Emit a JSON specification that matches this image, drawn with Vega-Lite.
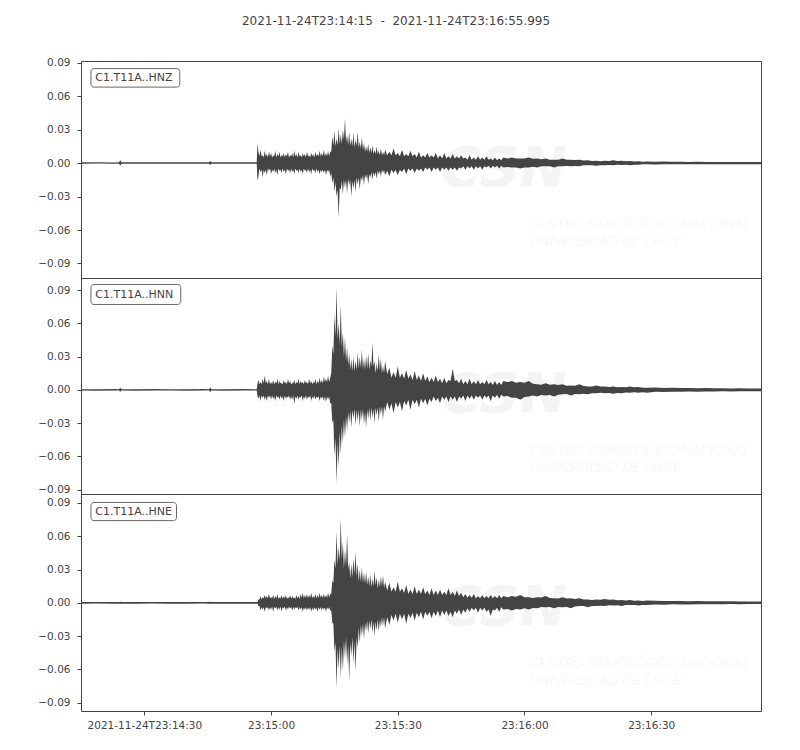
{
  "$schema": "https://vega.github.io/schema/vega-lite/v6.json",
  "padding": {"left": 30, "top": 14, "right": 40, "bottom": 10},
  "background": "white",
  "bounds": "flush",
  "title": {
    "text": "2021-11-24T23:14:15\u00a0 -\u00a0 2021-11-24T23:16:55.995",
    "font": "DejaVu Sans",
    "fontSize": 12,
    "fontWeight": "normal",
    "color": "#444444",
    "anchor": "middle",
    "frame": "bounds",
    "offset": 29.5
  },
  "config": {
    "font": "DejaVu Sans",
    "view": {"stroke": "#444444", "strokeWidth": 1},
    "axis": {
      "labelFont": "DejaVu Sans",
      "labelFontSize": 10.5,
      "labelColor": "#444444",
      "tickColor": "#444444",
      "tickSize": 4,
      "domain": false,
      "grid": false
    }
  },
  "datasets": {
    "trace": [
      {"t": "2021-11-24T23:14:15.000", "zh": 0.0006, "zl": -0.0006, "nh": 0.0006, "nl": -0.0006, "eh": 0.0008, "el": -0.0008},
      {"t": "2021-11-24T23:14:19.000", "zh": 0.0007, "zl": -0.0005, "nh": 0.0005, "nl": -0.0007, "eh": 0.0008, "el": -0.0007},
      {"t": "2021-11-24T23:14:23.000", "zh": 0.0005, "zl": -0.0007, "nh": 0.0007, "nl": -0.0005, "eh": 0.0007, "el": -0.0008},
      {"t": "2021-11-24T23:14:24.000", "zh": 0.0006, "zl": -0.0006, "nh": 0.0006, "nl": -0.0006, "eh": 0.0008, "el": -0.0008},
      {"t": "2021-11-24T23:14:24.300", "zh": 0.0024, "zl": -0.0022, "nh": 0.002, "nl": -0.0018, "eh": 0.0009, "el": -0.0008},
      {"t": "2021-11-24T23:14:24.600", "zh": 0.0006, "zl": -0.0006, "nh": 0.0006, "nl": -0.0006, "eh": 0.0008, "el": -0.0008},
      {"t": "2021-11-24T23:14:28.000", "zh": 0.0007, "zl": -0.0006, "nh": 0.0006, "nl": -0.0007, "eh": 0.0007, "el": -0.0008},
      {"t": "2021-11-24T23:14:32.000", "zh": 0.0006, "zl": -0.0007, "nh": 0.0007, "nl": -0.0006, "eh": 0.0008, "el": -0.0007},
      {"t": "2021-11-24T23:14:36.000", "zh": 0.0007, "zl": -0.0006, "nh": 0.0006, "nl": -0.0006, "eh": 0.0007, "el": -0.0008},
      {"t": "2021-11-24T23:14:40.000", "zh": 0.0006, "zl": -0.0006, "nh": 0.0006, "nl": -0.0007, "eh": 0.0008, "el": -0.0008},
      {"t": "2021-11-24T23:14:44.000", "zh": 0.0006, "zl": -0.0007, "nh": 0.0007, "nl": -0.0006, "eh": 0.0008, "el": -0.0007},
      {"t": "2021-11-24T23:14:45.300", "zh": 0.0006, "zl": -0.0006, "nh": 0.0006, "nl": -0.0006, "eh": 0.0008, "el": -0.0008},
      {"t": "2021-11-24T23:14:45.600", "zh": 0.0018, "zl": -0.0016, "nh": 0.0022, "nl": -0.002, "eh": 0.0009, "el": -0.0009},
      {"t": "2021-11-24T23:14:45.900", "zh": 0.0006, "zl": -0.0006, "nh": 0.0006, "nl": -0.0006, "eh": 0.0008, "el": -0.0008},
      {"t": "2021-11-24T23:14:49.000", "zh": 0.0007, "zl": -0.0006, "nh": 0.0006, "nl": -0.0007, "eh": 0.0008, "el": -0.0008},
      {"t": "2021-11-24T23:14:53.000", "zh": 0.0006, "zl": -0.0007, "nh": 0.0007, "nl": -0.0006, "eh": 0.0007, "el": -0.0008},
      {"t": "2021-11-24T23:14:56.600", "zh": 0.0006, "zl": -0.0006, "nh": 0.0006, "nl": -0.0006, "eh": 0.0008, "el": -0.0008},
      {"t": "2021-11-24T23:14:56.800", "zh": 0.018, "zl": -0.016, "nh": 0.006, "nl": -0.006, "eh": 0.0008, "el": -0.0008},
      {"t": "2021-11-24T23:14:57.000", "zh": 0.010, "zl": -0.012, "nh": 0.009, "nl": -0.008, "eh": 0.003, "el": -0.003},
      {"t": "2021-11-24T23:14:57.250", "zh": 0.006, "zl": -0.005, "nh": 0.005, "nl": -0.005, "eh": 0.003, "el": -0.003},
      {"t": "2021-11-24T23:14:57.500", "zh": 0.012, "zl": -0.008, "nh": 0.007, "nl": -0.010, "eh": 0.006, "el": -0.007},
      {"t": "2021-11-24T23:14:57.750", "zh": 0.006, "zl": -0.006, "nh": 0.005, "nl": -0.005, "eh": 0.003, "el": -0.004},
      {"t": "2021-11-24T23:14:58.000", "zh": 0.007, "zl": -0.013, "nh": 0.010, "nl": -0.007, "eh": 0.005, "el": -0.006},
      {"t": "2021-11-24T23:14:58.250", "zh": 0.005, "zl": -0.006, "nh": 0.006, "nl": -0.005, "eh": 0.004, "el": -0.004},
      {"t": "2021-11-24T23:14:58.500", "zh": 0.011, "zl": -0.009, "nh": 0.013, "nl": -0.009, "eh": 0.007, "el": -0.008},
      {"t": "2021-11-24T23:14:58.750", "zh": 0.006, "zl": -0.006, "nh": 0.006, "nl": -0.006, "eh": 0.004, "el": -0.004},
      {"t": "2021-11-24T23:14:59.000", "zh": 0.008, "zl": -0.011, "nh": 0.008, "nl": -0.010, "eh": 0.006, "el": -0.005},
      {"t": "2021-11-24T23:14:59.250", "zh": 0.005, "zl": -0.005, "nh": 0.005, "nl": -0.005, "eh": 0.004, "el": -0.004},
      {"t": "2021-11-24T23:14:59.500", "zh": 0.010, "zl": -0.007, "nh": 0.010, "nl": -0.007, "eh": 0.008, "el": -0.007},
      {"t": "2021-11-24T23:14:59.750", "zh": 0.006, "zl": -0.005, "nh": 0.005, "nl": -0.005, "eh": 0.004, "el": -0.004},
      {"t": "2021-11-24T23:15:00.000", "zh": 0.009, "zl": -0.010, "nh": 0.007, "nl": -0.009, "eh": 0.005, "el": -0.006},
      {"t": "2021-11-24T23:15:00.250", "zh": 0.005, "zl": -0.006, "nh": 0.005, "nl": -0.005, "eh": 0.004, "el": -0.0035},
      {"t": "2021-11-24T23:15:00.500", "zh": 0.007, "zl": -0.008, "nh": 0.009, "nl": -0.008, "eh": 0.007, "el": -0.008},
      {"t": "2021-11-24T23:15:00.750", "zh": 0.006, "zl": -0.005, "nh": 0.005, "nl": -0.006, "eh": 0.0035, "el": -0.004},
      {"t": "2021-11-24T23:15:01.000", "zh": 0.011, "zl": -0.009, "nh": 0.007, "nl": -0.010, "eh": 0.006, "el": -0.005},
      {"t": "2021-11-24T23:15:01.250", "zh": 0.005, "zl": -0.006, "nh": 0.006, "nl": -0.005, "eh": 0.004, "el": -0.0035},
      {"t": "2021-11-24T23:15:01.500", "zh": 0.008, "zl": -0.011, "nh": 0.010, "nl": -0.007, "eh": 0.008, "el": -0.007},
      {"t": "2021-11-24T23:15:01.750", "zh": 0.006, "zl": -0.005, "nh": 0.005, "nl": -0.006, "eh": 0.0035, "el": -0.004},
      {"t": "2021-11-24T23:15:02.000", "zh": 0.010, "zl": -0.007, "nh": 0.008, "nl": -0.009, "eh": 0.005, "el": -0.006},
      {"t": "2021-11-24T23:15:02.250", "zh": 0.005, "zl": -0.006, "nh": 0.006, "nl": -0.005, "eh": 0.004, "el": -0.0035},
      {"t": "2021-11-24T23:15:02.500", "zh": 0.007, "zl": -0.009, "nh": 0.006, "nl": -0.008, "eh": 0.007, "el": -0.008},
      {"t": "2021-11-24T23:15:02.750", "zh": 0.006, "zl": -0.005, "nh": 0.005, "nl": -0.006, "eh": 0.0035, "el": -0.004},
      {"t": "2021-11-24T23:15:03.000", "zh": 0.009, "zl": -0.008, "nh": 0.009, "nl": -0.010, "eh": 0.006, "el": -0.005},
      {"t": "2021-11-24T23:15:03.250", "zh": 0.005, "zl": -0.006, "nh": 0.006, "nl": -0.005, "eh": 0.004, "el": -0.0035},
      {"t": "2021-11-24T23:15:03.500", "zh": 0.008, "zl": -0.010, "nh": 0.007, "nl": -0.008, "eh": 0.007, "el": -0.007},
      {"t": "2021-11-24T23:15:03.750", "zh": 0.006, "zl": -0.005, "nh": 0.005, "nl": -0.006, "eh": 0.0035, "el": -0.004},
      {"t": "2021-11-24T23:15:04.000", "zh": 0.010, "zl": -0.007, "nh": 0.010, "nl": -0.007, "eh": 0.005, "el": -0.006},
      {"t": "2021-11-24T23:15:04.250", "zh": 0.005, "zl": -0.006, "nh": 0.006, "nl": -0.005, "eh": 0.004, "el": -0.0035},
      {"t": "2021-11-24T23:15:04.500", "zh": 0.007, "zl": -0.009, "nh": 0.008, "nl": -0.009, "eh": 0.007, "el": -0.005},
      {"t": "2021-11-24T23:15:04.750", "zh": 0.006, "zl": -0.005, "nh": 0.005, "nl": -0.006, "eh": 0.0035, "el": -0.004},
      {"t": "2021-11-24T23:15:05.000", "zh": 0.009, "zl": -0.008, "nh": 0.006, "nl": -0.009, "eh": 0.006, "el": -0.007},
      {"t": "2021-11-24T23:15:05.250", "zh": 0.005, "zl": -0.006, "nh": 0.006, "nl": -0.005, "eh": 0.004, "el": -0.0035},
      {"t": "2021-11-24T23:15:05.500", "zh": 0.011, "zl": -0.010, "nh": 0.009, "nl": -0.013, "eh": 0.005, "el": -0.006},
      {"t": "2021-11-24T23:15:05.750", "zh": 0.006, "zl": -0.005, "nh": 0.005, "nl": -0.006, "eh": 0.0035, "el": -0.004},
      {"t": "2021-11-24T23:15:06.000", "zh": 0.008, "zl": -0.007, "nh": 0.007, "nl": -0.008, "eh": 0.007, "el": -0.005},
      {"t": "2021-11-24T23:15:06.250", "zh": 0.005, "zl": -0.006, "nh": 0.006, "nl": -0.005, "eh": 0.004, "el": -0.0035},
      {"t": "2021-11-24T23:15:06.500", "zh": 0.010, "zl": -0.009, "nh": 0.010, "nl": -0.009, "eh": 0.006, "el": -0.007},
      {"t": "2021-11-24T23:15:06.750", "zh": 0.006, "zl": -0.005, "nh": 0.005, "nl": -0.006, "eh": 0.0035, "el": -0.004},
      {"t": "2021-11-24T23:15:07.000", "zh": 0.007, "zl": -0.008, "nh": 0.008, "nl": -0.007, "eh": 0.008, "el": -0.006},
      {"t": "2021-11-24T23:15:07.250", "zh": 0.005, "zl": -0.006, "nh": 0.006, "nl": -0.005, "eh": 0.0045, "el": -0.004},
      {"t": "2021-11-24T23:15:07.500", "zh": 0.009, "zl": -0.010, "nh": 0.007, "nl": -0.010, "eh": 0.009, "el": -0.008},
      {"t": "2021-11-24T23:15:07.750", "zh": 0.006, "zl": -0.005, "nh": 0.005, "nl": -0.006, "eh": 0.004, "el": -0.0045},
      {"t": "2021-11-24T23:15:08.000", "zh": 0.008, "zl": -0.007, "nh": 0.009, "nl": -0.008, "eh": 0.007, "el": -0.006},
      {"t": "2021-11-24T23:15:08.250", "zh": 0.005, "zl": -0.006, "nh": 0.006, "nl": -0.005, "eh": 0.0045, "el": -0.004},
      {"t": "2021-11-24T23:15:08.500", "zh": 0.010, "zl": -0.009, "nh": 0.007, "nl": -0.009, "eh": 0.008, "el": -0.007},
      {"t": "2021-11-24T23:15:08.750", "zh": 0.006, "zl": -0.005, "nh": 0.005, "nl": -0.006, "eh": 0.004, "el": -0.0045},
      {"t": "2021-11-24T23:15:09.000", "zh": 0.007, "zl": -0.008, "nh": 0.010, "nl": -0.007, "eh": 0.007, "el": -0.006},
      {"t": "2021-11-24T23:15:09.250", "zh": 0.005, "zl": -0.006, "nh": 0.006, "nl": -0.005, "eh": 0.0045, "el": -0.004},
      {"t": "2021-11-24T23:15:09.500", "zh": 0.009, "zl": -0.010, "nh": 0.008, "nl": -0.010, "eh": 0.009, "el": -0.008},
      {"t": "2021-11-24T23:15:09.750", "zh": 0.006, "zl": -0.005, "nh": 0.005, "nl": -0.006, "eh": 0.004, "el": -0.0045},
      {"t": "2021-11-24T23:15:10.000", "zh": 0.008, "zl": -0.007, "nh": 0.007, "nl": -0.008, "eh": 0.006, "el": -0.007},
      {"t": "2021-11-24T23:15:10.250", "zh": 0.005, "zl": -0.006, "nh": 0.006, "nl": -0.005, "eh": 0.0045, "el": -0.004},
      {"t": "2021-11-24T23:15:10.500", "zh": 0.010, "zl": -0.009, "nh": 0.010, "nl": -0.009, "eh": 0.008, "el": -0.006},
      {"t": "2021-11-24T23:15:10.750", "zh": 0.006, "zl": -0.005, "nh": 0.005, "nl": -0.006, "eh": 0.004, "el": -0.0045},
      {"t": "2021-11-24T23:15:11.000", "zh": 0.008, "zl": -0.008, "nh": 0.008, "nl": -0.007, "eh": 0.007, "el": -0.008},
      {"t": "2021-11-24T23:15:11.250", "zh": 0.006, "zl": -0.006, "nh": 0.006, "nl": -0.006, "eh": 0.0045, "el": -0.004},
      {"t": "2021-11-24T23:15:11.500", "zh": 0.011, "zl": -0.010, "nh": 0.011, "nl": -0.010, "eh": 0.009, "el": -0.006},
      {"t": "2021-11-24T23:15:11.750", "zh": 0.006, "zl": -0.006, "nh": 0.006, "nl": -0.006, "eh": 0.0045, "el": -0.004},
      {"t": "2021-11-24T23:15:12.000", "zh": 0.009, "zl": -0.008, "nh": 0.009, "nl": -0.008, "eh": 0.007, "el": -0.007},
      {"t": "2021-11-24T23:15:12.250", "zh": 0.006, "zl": -0.006, "nh": 0.006, "nl": -0.006, "eh": 0.0045, "el": -0.004},
      {"t": "2021-11-24T23:15:12.500", "zh": 0.012, "zl": -0.009, "nh": 0.012, "nl": -0.010, "eh": 0.008, "el": -0.006},
      {"t": "2021-11-24T23:15:12.750", "zh": 0.006, "zl": -0.006, "nh": 0.007, "nl": -0.006, "eh": 0.0045, "el": -0.0045},
      {"t": "2021-11-24T23:15:13.000", "zh": 0.009, "zl": -0.011, "nh": 0.010, "nl": -0.011, "eh": 0.007, "el": -0.008},
      {"t": "2021-11-24T23:15:13.250", "zh": 0.006, "zl": -0.006, "nh": 0.007, "nl": -0.006, "eh": 0.0045, "el": -0.004},
      {"t": "2021-11-24T23:15:13.500", "zh": 0.011, "zl": -0.008, "nh": 0.013, "nl": -0.009, "eh": 0.009, "el": -0.006},
      {"t": "2021-11-24T23:15:13.750", "zh": 0.006, "zl": -0.006, "nh": 0.007, "nl": -0.006, "eh": 0.005, "el": -0.004},
      {"t": "2021-11-24T23:15:14.000", "zh": 0.010, "zl": -0.012, "nh": 0.011, "nl": -0.012, "eh": 0.008, "el": -0.007},
      {"t": "2021-11-24T23:15:14.250", "zh": 0.010, "zl": -0.009, "nh": 0.015, "nl": -0.012, "eh": 0.008, "el": -0.007},
      {"t": "2021-11-24T23:15:14.500", "zh": 0.024, "zl": -0.018, "nh": 0.040, "nl": -0.030, "eh": 0.020, "el": -0.018},
      {"t": "2021-11-24T23:15:14.750", "zh": 0.016, "zl": -0.013, "nh": 0.032, "nl": -0.027, "eh": 0.018, "el": -0.019},
      {"t": "2021-11-24T23:15:15.000", "zh": 0.029, "zl": -0.026, "nh": 0.068, "nl": -0.060, "eh": 0.039, "el": -0.044},
      {"t": "2021-11-24T23:15:15.250", "zh": 0.015, "zl": -0.017, "nh": 0.048, "nl": -0.043, "eh": 0.031, "el": -0.036},
      {"t": "2021-11-24T23:15:15.500", "zh": 0.022, "zl": -0.030, "nh": 0.093, "nl": -0.085, "eh": 0.064, "el": -0.077},
      {"t": "2021-11-24T23:15:15.750", "zh": 0.016, "zl": -0.024, "nh": 0.046, "nl": -0.047, "eh": 0.034, "el": -0.041},
      {"t": "2021-11-24T23:15:16.000", "zh": 0.031, "zl": -0.049, "nh": 0.060, "nl": -0.070, "eh": 0.050, "el": -0.060},
      {"t": "2021-11-24T23:15:16.250", "zh": 0.017, "zl": -0.022, "nh": 0.041, "nl": -0.038, "eh": 0.038, "el": -0.038},
      {"t": "2021-11-24T23:15:16.500", "zh": 0.026, "zl": -0.024, "nh": 0.077, "nl": -0.058, "eh": 0.076, "el": -0.068},
      {"t": "2021-11-24T23:15:16.750", "zh": 0.017, "zl": -0.016, "nh": 0.039, "nl": -0.032, "eh": 0.039, "el": -0.039},
      {"t": "2021-11-24T23:15:17.000", "zh": 0.030, "zl": -0.028, "nh": 0.052, "nl": -0.048, "eh": 0.055, "el": -0.062},
      {"t": "2021-11-24T23:15:17.250", "zh": 0.021, "zl": -0.015, "nh": 0.030, "nl": -0.027, "eh": 0.031, "el": -0.034},
      {"t": "2021-11-24T23:15:17.500", "zh": 0.040, "zl": -0.022, "nh": 0.047, "nl": -0.043, "eh": 0.048, "el": -0.050},
      {"t": "2021-11-24T23:15:17.750", "zh": 0.019, "zl": -0.015, "nh": 0.026, "nl": -0.024, "eh": 0.033, "el": -0.031},
      {"t": "2021-11-24T23:15:18.000", "zh": 0.025, "zl": -0.027, "nh": 0.039, "nl": -0.037, "eh": 0.062, "el": -0.055},
      {"t": "2021-11-24T23:15:18.250", "zh": 0.016, "zl": -0.014, "nh": 0.022, "nl": -0.020, "eh": 0.030, "el": -0.038},
      {"t": "2021-11-24T23:15:18.500", "zh": 0.028, "zl": -0.020, "nh": 0.033, "nl": -0.030, "eh": 0.037, "el": -0.071},
      {"t": "2021-11-24T23:15:18.750", "zh": 0.015, "zl": -0.015, "nh": 0.018, "nl": -0.019, "eh": 0.022, "el": -0.036},
      {"t": "2021-11-24T23:15:19.000", "zh": 0.022, "zl": -0.030, "nh": 0.028, "nl": -0.034, "eh": 0.035, "el": -0.048},
      {"t": "2021-11-24T23:15:19.250", "zh": 0.015, "zl": -0.016, "nh": 0.017, "nl": -0.018, "eh": 0.023, "el": -0.031},
      {"t": "2021-11-24T23:15:19.500", "zh": 0.027, "zl": -0.023, "nh": 0.030, "nl": -0.026, "eh": 0.040, "el": -0.055},
      {"t": "2021-11-24T23:15:19.750", "zh": 0.014, "zl": -0.015, "nh": 0.017, "nl": -0.017, "eh": 0.026, "el": -0.035},
      {"t": "2021-11-24T23:15:20.000", "zh": 0.021, "zl": -0.026, "nh": 0.026, "nl": -0.032, "eh": 0.046, "el": -0.062},
      {"t": "2021-11-24T23:15:20.250", "zh": 0.015, "zl": -0.013, "nh": 0.018, "nl": -0.018, "eh": 0.024, "el": -0.031},
      {"t": "2021-11-24T23:15:20.500", "zh": 0.028, "zl": -0.019, "nh": 0.034, "nl": -0.028, "eh": 0.035, "el": -0.041},
      {"t": "2021-11-24T23:15:20.750", "zh": 0.014, "zl": -0.013, "nh": 0.019, "nl": -0.018, "eh": 0.019, "el": -0.023},
      {"t": "2021-11-24T23:15:21.000", "zh": 0.019, "zl": -0.024, "nh": 0.030, "nl": -0.033, "eh": 0.030, "el": -0.036},
      {"t": "2021-11-24T23:15:21.250", "zh": 0.013, "zl": -0.012, "nh": 0.020, "nl": -0.018, "eh": 0.019, "el": -0.020},
      {"t": "2021-11-24T23:15:21.500", "zh": 0.023, "zl": -0.016, "nh": 0.036, "nl": -0.027, "eh": 0.032, "el": -0.030},
      {"t": "2021-11-24T23:15:21.750", "zh": 0.012, "zl": -0.011, "nh": 0.019, "nl": -0.017, "eh": 0.018, "el": -0.019},
      {"t": "2021-11-24T23:15:22.000", "zh": 0.018, "zl": -0.020, "nh": 0.028, "nl": -0.031, "eh": 0.027, "el": -0.033},
      {"t": "2021-11-24T23:15:22.250", "zh": 0.010, "zl": -0.010, "nh": 0.018, "nl": -0.020, "eh": 0.017, "el": -0.018},
      {"t": "2021-11-24T23:15:22.500", "zh": 0.015, "zl": -0.014, "nh": 0.031, "nl": -0.034, "eh": 0.028, "el": -0.026},
      {"t": "2021-11-24T23:15:22.750", "zh": 0.010, "zl": -0.010, "nh": 0.019, "nl": -0.018, "eh": 0.016, "el": -0.016},
      {"t": "2021-11-24T23:15:23.000", "zh": 0.017, "zl": -0.019, "nh": 0.033, "nl": -0.026, "eh": 0.024, "el": -0.028},
      {"t": "2021-11-24T23:15:23.250", "zh": 0.009, "zl": -0.010, "nh": 0.018, "nl": -0.016, "eh": 0.015, "el": -0.016},
      {"t": "2021-11-24T23:15:23.500", "zh": 0.014, "zl": -0.013, "nh": 0.027, "nl": -0.028, "eh": 0.026, "el": -0.024},
      {"t": "2021-11-24T23:15:23.750", "zh": 0.009, "zl": -0.008, "nh": 0.021, "nl": -0.016, "eh": 0.014, "el": -0.015},
      {"t": "2021-11-24T23:15:24.000", "zh": 0.016, "zl": -0.015, "nh": 0.043, "nl": -0.025, "eh": 0.022, "el": -0.027},
      {"t": "2021-11-24T23:15:24.250", "zh": 0.008, "zl": -0.008, "nh": 0.021, "nl": -0.017, "eh": 0.015, "el": -0.017},
      {"t": "2021-11-24T23:15:24.500", "zh": 0.012, "zl": -0.012, "nh": 0.026, "nl": -0.030, "eh": 0.029, "el": -0.030},
      {"t": "2021-11-24T23:15:24.750", "zh": 0.008, "zl": -0.008, "nh": 0.015, "nl": -0.016, "eh": 0.016, "el": -0.017},
      {"t": "2021-11-24T23:15:25.000", "zh": 0.015, "zl": -0.014, "nh": 0.024, "nl": -0.023, "eh": 0.023, "el": -0.025},
      {"t": "2021-11-24T23:15:25.250", "zh": 0.008, "zl": -0.007, "nh": 0.017, "nl": -0.016, "eh": 0.013, "el": -0.015},
      {"t": "2021-11-24T23:15:25.500", "zh": 0.011, "zl": -0.010, "nh": 0.032, "nl": -0.029, "eh": 0.021, "el": -0.026},
      {"t": "2021-11-24T23:15:25.750", "zh": 0.007, "zl": -0.007, "nh": 0.018, "nl": -0.015, "eh": 0.014, "el": -0.015},
      {"t": "2021-11-24T23:15:26.000", "zh": 0.013, "zl": -0.012, "nh": 0.028, "nl": -0.022, "eh": 0.024, "el": -0.022},
      {"t": "2021-11-24T23:15:26.250", "zh": 0.007, "zl": -0.006, "nh": 0.015, "nl": -0.015, "eh": 0.015, "el": -0.013},
      {"t": "2021-11-24T23:15:26.500", "zh": 0.010, "zl": -0.009, "nh": 0.022, "nl": -0.027, "eh": 0.025, "el": -0.021},
      {"t": "2021-11-24T23:15:26.750", "zh": 0.007, "zl": -0.006, "nh": 0.015, "nl": -0.014, "eh": 0.013, "el": -0.013},
      {"t": "2021-11-24T23:15:27.000", "zh": 0.012, "zl": -0.011, "nh": 0.026, "nl": -0.020, "eh": 0.019, "el": -0.023},
      {"t": "2021-11-24T23:15:27.500", "zh": 0.007, "zl": -0.007, "nh": 0.014, "nl": -0.011, "eh": 0.011, "el": -0.013},
      {"t": "2021-11-24T23:15:28.000", "zh": 0.010, "zl": -0.012, "nh": 0.020, "nl": -0.018, "eh": 0.018, "el": -0.020},
      {"t": "2021-11-24T23:15:28.500", "zh": 0.007, "zl": -0.006, "nh": 0.011, "nl": -0.012, "eh": 0.010, "el": -0.011},
      {"t": "2021-11-24T23:15:29.000", "zh": 0.013, "zl": -0.009, "nh": 0.016, "nl": -0.021, "eh": 0.014, "el": -0.016},
      {"t": "2021-11-24T23:15:29.500", "zh": 0.007, "zl": -0.006, "nh": 0.011, "nl": -0.011, "eh": 0.010, "el": -0.010},
      {"t": "2021-11-24T23:15:30.000", "zh": 0.009, "zl": -0.011, "nh": 0.021, "nl": -0.016, "eh": 0.019, "el": -0.018},
      {"t": "2021-11-24T23:15:30.500", "zh": 0.006, "zl": -0.006, "nh": 0.011, "nl": -0.011, "eh": 0.010, "el": -0.010},
      {"t": "2021-11-24T23:15:31.000", "zh": 0.012, "zl": -0.008, "nh": 0.015, "nl": -0.019, "eh": 0.013, "el": -0.015},
      {"t": "2021-11-24T23:15:31.500", "zh": 0.006, "zl": -0.005, "nh": 0.010, "nl": -0.010, "eh": 0.009, "el": -0.010},
      {"t": "2021-11-24T23:15:32.000", "zh": 0.008, "zl": -0.010, "nh": 0.018, "nl": -0.014, "eh": 0.016, "el": -0.019},
      {"t": "2021-11-24T23:15:32.500", "zh": 0.006, "zl": -0.005, "nh": 0.010, "nl": -0.009, "eh": 0.008, "el": -0.010},
      {"t": "2021-11-24T23:15:33.000", "zh": 0.011, "zl": -0.007, "nh": 0.014, "nl": -0.018, "eh": 0.012, "el": -0.014},
      {"t": "2021-11-24T23:15:33.500", "zh": 0.006, "zl": -0.005, "nh": 0.009, "nl": -0.009, "eh": 0.008, "el": -0.009},
      {"t": "2021-11-24T23:15:34.000", "zh": 0.008, "zl": -0.009, "nh": 0.017, "nl": -0.013, "eh": 0.015, "el": -0.016},
      {"t": "2021-11-24T23:15:34.500", "zh": 0.005, "zl": -0.005, "nh": 0.009, "nl": -0.009, "eh": 0.008, "el": -0.009},
      {"t": "2021-11-24T23:15:35.000", "zh": 0.010, "zl": -0.007, "nh": 0.013, "nl": -0.016, "eh": 0.012, "el": -0.013},
      {"t": "2021-11-24T23:15:35.500", "zh": 0.005, "zl": -0.005, "nh": 0.008, "nl": -0.008, "eh": 0.008, "el": -0.008},
      {"t": "2021-11-24T23:15:36.000", "zh": 0.007, "zl": -0.008, "nh": 0.015, "nl": -0.012, "eh": 0.014, "el": -0.015},
      {"t": "2021-11-24T23:15:36.500", "zh": 0.005, "zl": -0.004, "nh": 0.008, "nl": -0.008, "eh": 0.008, "el": -0.008},
      {"t": "2021-11-24T23:15:37.000", "zh": 0.009, "zl": -0.006, "nh": 0.012, "nl": -0.014, "eh": 0.011, "el": -0.012},
      {"t": "2021-11-24T23:15:37.500", "zh": 0.005, "zl": -0.004, "nh": 0.007, "nl": -0.008, "eh": 0.007, "el": -0.008},
      {"t": "2021-11-24T23:15:38.000", "zh": 0.007, "zl": -0.008, "nh": 0.011, "nl": -0.011, "eh": 0.013, "el": -0.014},
      {"t": "2021-11-24T23:15:38.500", "zh": 0.005, "zl": -0.004, "nh": 0.007, "nl": -0.006, "eh": 0.007, "el": -0.008},
      {"t": "2021-11-24T23:15:39.000", "zh": 0.009, "zl": -0.006, "nh": 0.013, "nl": -0.010, "eh": 0.011, "el": -0.012},
      {"t": "2021-11-24T23:15:39.500", "zh": 0.004, "zl": -0.004, "nh": 0.007, "nl": -0.007, "eh": 0.007, "el": -0.007},
      {"t": "2021-11-24T23:15:40.000", "zh": 0.007, "zl": -0.008, "nh": 0.010, "nl": -0.012, "eh": 0.012, "el": -0.013},
      {"t": "2021-11-24T23:15:40.500", "zh": 0.004, "zl": -0.004, "nh": 0.006, "nl": -0.006, "eh": 0.007, "el": -0.007},
      {"t": "2021-11-24T23:15:41.000", "zh": 0.009, "zl": -0.006, "nh": 0.011, "nl": -0.009, "eh": 0.010, "el": -0.011},
      {"t": "2021-11-24T23:15:41.500", "zh": 0.004, "zl": -0.004, "nh": 0.006, "nl": -0.006, "eh": 0.007, "el": -0.007},
      {"t": "2021-11-24T23:15:42.000", "zh": 0.006, "zl": -0.007, "nh": 0.009, "nl": -0.011, "eh": 0.013, "el": -0.012},
      {"t": "2021-11-24T23:15:42.500", "zh": 0.004, "zl": -0.004, "nh": 0.008, "nl": -0.006, "eh": 0.007, "el": -0.008},
      {"t": "2021-11-24T23:15:43.000", "zh": 0.008, "zl": -0.006, "nh": 0.019, "nl": -0.009, "eh": 0.010, "el": -0.013},
      {"t": "2021-11-24T23:15:43.500", "zh": 0.004, "zl": -0.004, "nh": 0.008, "nl": -0.006, "eh": 0.006, "el": -0.007},
      {"t": "2021-11-24T23:15:44.000", "zh": 0.006, "zl": -0.007, "nh": 0.009, "nl": -0.011, "eh": 0.011, "el": -0.010},
      {"t": "2021-11-24T23:15:44.500", "zh": 0.004, "zl": -0.004, "nh": 0.006, "nl": -0.006, "eh": 0.006, "el": -0.006},
      {"t": "2021-11-24T23:15:45.000", "zh": 0.007, "zl": -0.005, "nh": 0.010, "nl": -0.008, "eh": 0.009, "el": -0.011},
      {"t": "2021-11-24T23:15:45.500", "zh": 0.004, "zl": -0.003, "nh": 0.005, "nl": -0.005, "eh": 0.005, "el": -0.006},
      {"t": "2021-11-24T23:15:46.000", "zh": 0.005, "zl": -0.006, "nh": 0.008, "nl": -0.010, "eh": 0.008, "el": -0.009},
      {"t": "2021-11-24T23:15:46.500", "zh": 0.003, "zl": -0.003, "nh": 0.005, "nl": -0.005, "eh": 0.0045, "el": -0.005},
      {"t": "2021-11-24T23:15:47.000", "zh": 0.007, "zl": -0.005, "nh": 0.010, "nl": -0.008, "eh": 0.007, "el": -0.008},
      {"t": "2021-11-24T23:15:47.500", "zh": 0.003, "zl": -0.003, "nh": 0.005, "nl": -0.005, "eh": 0.0045, "el": -0.0045},
      {"t": "2021-11-24T23:15:48.000", "zh": 0.005, "zl": -0.006, "nh": 0.008, "nl": -0.009, "eh": 0.008, "el": -0.007},
      {"t": "2021-11-24T23:15:48.500", "zh": 0.003, "zl": -0.003, "nh": 0.005, "nl": -0.005, "eh": 0.004, "el": -0.0045},
      {"t": "2021-11-24T23:15:49.000", "zh": 0.006, "zl": -0.005, "nh": 0.009, "nl": -0.007, "eh": 0.006, "el": -0.009},
      {"t": "2021-11-24T23:15:49.500", "zh": 0.003, "zl": -0.003, "nh": 0.005, "nl": -0.005, "eh": 0.004, "el": -0.0045},
      {"t": "2021-11-24T23:15:50.000", "zh": 0.005, "zl": -0.006, "nh": 0.007, "nl": -0.009, "eh": 0.007, "el": -0.007},
      {"t": "2021-11-24T23:15:50.500", "zh": 0.003, "zl": -0.003, "nh": 0.005, "nl": -0.005, "eh": 0.004, "el": -0.0045},
      {"t": "2021-11-24T23:15:51.000", "zh": 0.006, "zl": -0.004, "nh": 0.009, "nl": -0.007, "eh": 0.006, "el": -0.008},
      {"t": "2021-11-24T23:15:51.500", "zh": 0.003, "zl": -0.0025, "nh": 0.005, "nl": -0.005, "eh": 0.004, "el": -0.006},
      {"t": "2021-11-24T23:15:52.000", "zh": 0.004, "zl": -0.005, "nh": 0.007, "nl": -0.010, "eh": 0.007, "el": -0.012},
      {"t": "2021-11-24T23:15:52.500", "zh": 0.0025, "zl": -0.0025, "nh": 0.0045, "nl": -0.005, "eh": 0.004, "el": -0.006},
      {"t": "2021-11-24T23:15:53.000", "zh": 0.005, "zl": -0.004, "nh": 0.008, "nl": -0.007, "eh": 0.006, "el": -0.007},
      {"t": "2021-11-24T23:15:53.500", "zh": 0.0025, "zl": -0.0025, "nh": 0.0045, "nl": -0.0045, "eh": 0.004, "el": -0.0045},
      {"t": "2021-11-24T23:15:54.000", "zh": 0.004, "zl": -0.005, "nh": 0.007, "nl": -0.008, "eh": 0.007, "el": -0.008},
      {"t": "2021-11-24T23:15:54.500", "zh": 0.0025, "zl": -0.0025, "nh": 0.0045, "nl": -0.0045, "eh": 0.004, "el": -0.004},
      {"t": "2021-11-24T23:15:55.000", "zh": 0.005, "zl": -0.004, "nh": 0.008, "nl": -0.006, "eh": 0.006, "el": -0.006},
      {"t": "2021-11-24T23:15:56.000", "zh": 0.004, "zl": -0.0035, "nh": 0.007, "nl": -0.0055, "eh": 0.005, "el": -0.0055},
      {"t": "2021-11-24T23:15:57.000", "zh": 0.005, "zl": -0.004, "nh": 0.008, "nl": -0.007, "eh": 0.006, "el": -0.007},
      {"t": "2021-11-24T23:15:58.000", "zh": 0.004, "zl": -0.004, "nh": 0.0065, "nl": -0.007, "eh": 0.0055, "el": -0.0055},
      {"t": "2021-11-24T23:15:59.000", "zh": 0.004, "zl": -0.005, "nh": 0.007, "nl": -0.009, "eh": 0.007, "el": -0.006},
      {"t": "2021-11-24T23:16:00.000", "zh": 0.004, "zl": -0.004, "nh": 0.0065, "nl": -0.0065, "eh": 0.005, "el": -0.005},
      {"t": "2021-11-24T23:16:01.000", "zh": 0.005, "zl": -0.004, "nh": 0.008, "nl": -0.006, "eh": 0.005, "el": -0.006},
      {"t": "2021-11-24T23:16:02.000", "zh": 0.0038, "zl": -0.0034, "nh": 0.0055, "nl": -0.005, "eh": 0.0043, "el": -0.0047},
      {"t": "2021-11-24T23:16:03.000", "zh": 0.004, "zl": -0.004, "nh": 0.005, "nl": -0.006, "eh": 0.005, "el": -0.005},
      {"t": "2021-11-24T23:16:04.000", "zh": 0.0034, "zl": -0.003, "nh": 0.0047, "nl": -0.0047, "eh": 0.0047, "el": -0.0038},
      {"t": "2021-11-24T23:16:05.000", "zh": 0.004, "zl": -0.003, "nh": 0.006, "nl": -0.005, "eh": 0.006, "el": -0.004},
      {"t": "2021-11-24T23:16:06.000", "zh": 0.003, "zl": -0.003, "nh": 0.0047, "nl": -0.0047, "eh": 0.0043, "el": -0.0038},
      {"t": "2021-11-24T23:16:07.000", "zh": 0.003, "zl": -0.004, "nh": 0.005, "nl": -0.006, "eh": 0.004, "el": -0.005},
      {"t": "2021-11-24T23:16:08.000", "zh": 0.003, "zl": -0.003, "nh": 0.0043, "nl": -0.0043, "eh": 0.0038, "el": -0.0038},
      {"t": "2021-11-24T23:16:09.000", "zh": 0.004, "zl": -0.003, "nh": 0.005, "nl": -0.004, "eh": 0.005, "el": -0.004},
      {"t": "2021-11-24T23:16:10.000", "zh": 0.003, "zl": -0.0026, "nh": 0.0038, "nl": -0.0038, "eh": 0.0038, "el": -0.0038},
      {"t": "2021-11-24T23:16:11.000", "zh": 0.003, "zl": -0.003, "nh": 0.004, "nl": -0.005, "eh": 0.004, "el": -0.005},
      {"t": "2021-11-24T23:16:12.000", "zh": 0.0026, "zl": -0.0026, "nh": 0.0038, "nl": -0.0038, "eh": 0.0034, "el": -0.0034},
      {"t": "2021-11-24T23:16:13.000", "zh": 0.003, "zl": -0.003, "nh": 0.005, "nl": -0.004, "eh": 0.004, "el": -0.003},
      {"t": "2021-11-24T23:16:14.000", "zh": 0.0023, "zl": -0.0021, "nh": 0.0034, "nl": -0.0034, "eh": 0.003, "el": -0.003},
      {"t": "2021-11-24T23:16:15.000", "zh": 0.0025, "zl": -0.002, "nh": 0.003, "nl": -0.004, "eh": 0.003, "el": -0.004},
      {"t": "2021-11-24T23:16:16.000", "zh": 0.0019, "zl": -0.0019, "nh": 0.003, "nl": -0.003, "eh": 0.0026, "el": -0.003},
      {"t": "2021-11-24T23:16:17.000", "zh": 0.002, "zl": -0.0025, "nh": 0.004, "nl": -0.003, "eh": 0.003, "el": -0.003},
      {"t": "2021-11-24T23:16:18.000", "zh": 0.0017, "zl": -0.0019, "nh": 0.003, "nl": -0.0026, "eh": 0.0028, "el": -0.0026},
      {"t": "2021-11-24T23:16:19.000", "zh": 0.002, "zl": -0.002, "nh": 0.003, "nl": -0.003, "eh": 0.0035, "el": -0.003},
      {"t": "2021-11-24T23:16:20.000", "zh": 0.0019, "zl": -0.0017, "nh": 0.0026, "nl": -0.0028, "eh": 0.0028, "el": -0.0023},
      {"t": "2021-11-24T23:16:21.000", "zh": 0.0025, "zl": -0.002, "nh": 0.003, "nl": -0.0035, "eh": 0.003, "el": -0.0025},
      {"t": "2021-11-24T23:16:22.000", "zh": 0.0019, "zl": -0.0016, "nh": 0.0023, "nl": -0.0028, "eh": 0.0023, "el": -0.0023},
      {"t": "2021-11-24T23:16:23.000", "zh": 0.002, "zl": -0.0018, "nh": 0.0025, "nl": -0.003, "eh": 0.0025, "el": -0.003},
      {"t": "2021-11-24T23:16:24.000", "zh": 0.0016, "zl": -0.0016, "nh": 0.0023, "nl": -0.0023, "eh": 0.0021, "el": -0.0021},
      {"t": "2021-11-24T23:16:25.000", "zh": 0.0018, "zl": -0.002, "nh": 0.003, "nl": -0.0025, "eh": 0.0025, "el": -0.002},
      {"t": "2021-11-24T23:16:26.000", "zh": 0.0014, "zl": -0.0015, "nh": 0.0023, "nl": -0.0021, "eh": 0.0019, "el": -0.0019},
      {"t": "2021-11-24T23:16:27.000", "zh": 0.0015, "zl": -0.0015, "nh": 0.0025, "nl": -0.0025, "eh": 0.002, "el": -0.0025},
      {"t": "2021-11-24T23:16:28.000", "zh": 0.0012, "zl": -0.0012, "nh": 0.0019, "nl": -0.0021, "eh": 0.0017, "el": -0.0019},
      {"t": "2021-11-24T23:16:29.000", "zh": 0.0014, "zl": -0.0012, "nh": 0.002, "nl": -0.0025, "eh": 0.002, "el": -0.002},
      {"t": "2021-11-24T23:16:31.000", "zh": 0.0012, "zl": -0.0013, "nh": 0.0022, "nl": -0.0018, "eh": 0.0018, "el": -0.0016},
      {"t": "2021-11-24T23:16:33.000", "zh": 0.0013, "zl": -0.0011, "nh": 0.0018, "nl": -0.002, "eh": 0.0016, "el": -0.0018},
      {"t": "2021-11-24T23:16:35.000", "zh": 0.0011, "zl": -0.0012, "nh": 0.0019, "nl": -0.0016, "eh": 0.0015, "el": -0.0014},
      {"t": "2021-11-24T23:16:37.000", "zh": 0.0012, "zl": -0.0011, "nh": 0.0016, "nl": -0.0018, "eh": 0.0016, "el": -0.0015},
      {"t": "2021-11-24T23:16:39.000", "zh": 0.001, "zl": -0.0011, "nh": 0.0017, "nl": -0.0015, "eh": 0.0014, "el": -0.0015},
      {"t": "2021-11-24T23:16:41.000", "zh": 0.0011, "zl": -0.001, "nh": 0.0015, "nl": -0.0016, "eh": 0.0015, "el": -0.0013},
      {"t": "2021-11-24T23:16:43.000", "zh": 0.001, "zl": -0.001, "nh": 0.0016, "nl": -0.0014, "eh": 0.0013, "el": -0.0014},
      {"t": "2021-11-24T23:16:45.000", "zh": 0.001, "zl": -0.001, "nh": 0.0014, "nl": -0.0015, "eh": 0.0014, "el": -0.0013},
      {"t": "2021-11-24T23:16:47.000", "zh": 0.001, "zl": -0.001, "nh": 0.0015, "nl": -0.0013, "eh": 0.0013, "el": -0.0013},
      {"t": "2021-11-24T23:16:49.000", "zh": 0.001, "zl": -0.001, "nh": 0.0013, "nl": -0.0014, "eh": 0.0013, "el": -0.0012},
      {"t": "2021-11-24T23:16:51.000", "zh": 0.001, "zl": -0.001, "nh": 0.0014, "nl": -0.0013, "eh": 0.0012, "el": -0.0013},
      {"t": "2021-11-24T23:16:53.000", "zh": 0.001, "zl": -0.001, "nh": 0.0013, "nl": -0.0013, "eh": 0.0012, "el": -0.0012},
      {"t": "2021-11-24T23:16:55.995", "zh": 0.001, "zl": -0.001, "nh": 0.0013, "nl": -0.0013, "eh": 0.0012, "el": -0.0012}
    ]
  },
  "spacing": 0,
  "vconcat": [
    {
      "width": 680,
      "height": 217,
      "layer": [
        {
          "data": {"values": [{"logo": "CSN"}]},
          "mark": {"type": "text", "font": "DejaVu Sans", "fontSize": 56, "fontStyle": "italic", "fontWeight": "bold", "color": "#f4f4f4", "align": "center", "baseline": "middle"},
          "encoding": {
            "x": {"datum": {"year": 2021, "month": 11, "date": 24, "hours": 23, "minutes": 15, "seconds": 55}, "type": "temporal", "title": null, "axis": null},
            "y": {"datum": -0.005, "type": "quantitative", "title": null, "axis": {"values": [-0.09, -0.06, -0.03, 0, 0.03, 0.06, 0.09], "format": ".2f", "labelPadding": 7, "minExtent": 50, "maxExtent": 50}},
            "text": {"field": "logo"}
          }
        },
        {
          "data": {"values": [{"org": "CENTRO SISMOLÓGICO NACIONAL\nUNIVERSIDAD DE CHILE"}]},
          "mark": {"type": "text", "font": "Lato", "fontSize": 14.5, "fontStyle": "italic", "fontWeight": 300, "color": "#f4f4f4", "align": "left", "baseline": "top", "lineBreak": "\n", "lineHeight": 17},
          "encoding": {
            "x": {"datum": {"year": 2021, "month": 11, "date": 24, "hours": 23, "minutes": 16, "seconds": 1, "milliseconds": 300}, "type": "temporal", "title": null, "axis": null},
            "y": {"datum": -0.049, "type": "quantitative", "title": null, "axis": {"values": [-0.09, -0.06, -0.03, 0, 0.03, 0.06, 0.09], "format": ".2f", "labelPadding": 7, "minExtent": 50, "maxExtent": 50}},
            "text": {"field": "org"}
          }
        },
        {
          "data": {"name": "trace"},
          "mark": {"type": "area", "color": "#444444", "interpolate": "linear"},
          "encoding": {
            "x": {
              "field": "t",
              "type": "temporal",
              "title": null,
              "scale": {"domain": [{"year": 2021, "month": 11, "date": 24, "hours": 23, "minutes": 14, "seconds": 15}, {"year": 2021, "month": 11, "date": 24, "hours": 23, "minutes": 16, "seconds": 55, "milliseconds": 995}]},
              "axis": null
            },
            "y": {
              "field": "zh",
              "type": "quantitative",
              "title": null,
              "scale": {"domain": [-0.103, 0.0914], "nice": false, "zero": false},
              "axis": {"values": [-0.09, -0.06, -0.03, 0, 0.03, 0.06, 0.09], "format": ".2f", "labelPadding": 7, "minExtent": 50, "maxExtent": 50}
            },
            "y2": {"field": "zl"}
          }
        },
        {
          "data": {"values": [{"station": "C1.T11A..HNZ"}]},
          "mark": {"type": "rect", "fill": "white", "stroke": "#666666", "strokeWidth": 1, "cornerRadius": 3},
          "encoding": {
            "x": {"datum": {"year": 2021, "month": 11, "date": 24, "hours": 23, "minutes": 14, "seconds": 17, "milliseconds": 360}, "type": "temporal", "title": null, "axis": null},
            "x2": {"datum": {"year": 2021, "month": 11, "date": 24, "hours": 23, "minutes": 14, "seconds": 38, "milliseconds": 390}},
            "y": {"datum": 0.0846, "type": "quantitative", "title": null, "axis": {"values": [-0.09, -0.06, -0.03, 0, 0.03, 0.06, 0.09], "format": ".2f", "labelPadding": 7, "minExtent": 50, "maxExtent": 50}},
            "y2": {"datum": 0.068}
          }
        },
        {
          "data": {"values": [{"station": "C1.T11A..HNZ"}]},
          "mark": {"type": "text", "fontSize": 11, "color": "#444444", "align": "left", "baseline": "middle"},
          "encoding": {
            "x": {"datum": {"year": 2021, "month": 11, "date": 24, "hours": 23, "minutes": 14, "seconds": 18, "milliseconds": 400}, "type": "temporal", "title": null, "axis": null},
            "y": {"datum": 0.0763, "type": "quantitative", "title": null, "axis": {"values": [-0.09, -0.06, -0.03, 0, 0.03, 0.06, 0.09], "format": ".2f", "labelPadding": 7, "minExtent": 50, "maxExtent": 50}},
            "text": {"field": "station"}
          }
        }
      ]
    },
    {
      "width": 680,
      "height": 216,
      "layer": [
        {
          "data": {"values": [{"logo": "CSN"}]},
          "mark": {"type": "text", "font": "DejaVu Sans", "fontSize": 56, "fontStyle": "italic", "fontWeight": "bold", "color": "#f4f4f4", "align": "center", "baseline": "middle"},
          "encoding": {
            "x": {"datum": {"year": 2021, "month": 11, "date": 24, "hours": 23, "minutes": 15, "seconds": 55}, "type": "temporal", "title": null, "axis": null},
            "y": {"datum": -0.005, "type": "quantitative", "title": null, "axis": {"values": [-0.09, -0.06, -0.03, 0, 0.03, 0.06, 0.09], "format": ".2f", "labelPadding": 7, "minExtent": 50, "maxExtent": 50}},
            "text": {"field": "logo"}
          }
        },
        {
          "data": {"values": [{"org": "CENTRO SISMOLÓGICO NACIONAL\nUNIVERSIDAD DE CHILE"}]},
          "mark": {"type": "text", "font": "Lato", "fontSize": 14.5, "fontStyle": "italic", "fontWeight": 300, "color": "#f4f4f4", "align": "left", "baseline": "top", "lineBreak": "\n", "lineHeight": 17},
          "encoding": {
            "x": {"datum": {"year": 2021, "month": 11, "date": 24, "hours": 23, "minutes": 16, "seconds": 1, "milliseconds": 300}, "type": "temporal", "title": null, "axis": null},
            "y": {"datum": -0.049, "type": "quantitative", "title": null, "axis": {"values": [-0.09, -0.06, -0.03, 0, 0.03, 0.06, 0.09], "format": ".2f", "labelPadding": 7, "minExtent": 50, "maxExtent": 50}},
            "text": {"field": "org"}
          }
        },
        {
          "data": {"name": "trace"},
          "mark": {"type": "area", "color": "#444444", "interpolate": "linear"},
          "encoding": {
            "x": {
              "field": "t",
              "type": "temporal",
              "title": null,
              "scale": {"domain": [{"year": 2021, "month": 11, "date": 24, "hours": 23, "minutes": 14, "seconds": 15}, {"year": 2021, "month": 11, "date": 24, "hours": 23, "minutes": 16, "seconds": 55, "milliseconds": 995}]},
              "axis": null
            },
            "y": {
              "field": "nh",
              "type": "quantitative",
              "title": null,
              "scale": {"domain": [-0.094, 0.101], "nice": false, "zero": false},
              "axis": {"values": [-0.09, -0.06, -0.03, 0, 0.03, 0.06, 0.09], "format": ".2f", "labelPadding": 7, "minExtent": 50, "maxExtent": 50}
            },
            "y2": {"field": "nl"}
          }
        },
        {
          "data": {"values": [{"station": "C1.T11A..HNN"}]},
          "mark": {"type": "rect", "fill": "white", "stroke": "#666666", "strokeWidth": 1, "cornerRadius": 3},
          "encoding": {
            "x": {"datum": {"year": 2021, "month": 11, "date": 24, "hours": 23, "minutes": 14, "seconds": 17, "milliseconds": 360}, "type": "temporal", "title": null, "axis": null},
            "x2": {"datum": {"year": 2021, "month": 11, "date": 24, "hours": 23, "minutes": 14, "seconds": 38, "milliseconds": 620}},
            "y": {"datum": 0.0951, "type": "quantitative", "title": null, "axis": {"values": [-0.09, -0.06, -0.03, 0, 0.03, 0.06, 0.09], "format": ".2f", "labelPadding": 7, "minExtent": 50, "maxExtent": 50}},
            "y2": {"datum": 0.0771}
          }
        },
        {
          "data": {"values": [{"station": "C1.T11A..HNN"}]},
          "mark": {"type": "text", "fontSize": 11, "color": "#444444", "align": "left", "baseline": "middle"},
          "encoding": {
            "x": {"datum": {"year": 2021, "month": 11, "date": 24, "hours": 23, "minutes": 14, "seconds": 18, "milliseconds": 400}, "type": "temporal", "title": null, "axis": null},
            "y": {"datum": 0.0861, "type": "quantitative", "title": null, "axis": {"values": [-0.09, -0.06, -0.03, 0, 0.03, 0.06, 0.09], "format": ".2f", "labelPadding": 7, "minExtent": 50, "maxExtent": 50}},
            "text": {"field": "station"}
          }
        }
      ]
    },
    {
      "width": 680,
      "height": 217,
      "layer": [
        {
          "data": {"values": [{"logo": "CSN"}]},
          "mark": {"type": "text", "font": "DejaVu Sans", "fontSize": 56, "fontStyle": "italic", "fontWeight": "bold", "color": "#f4f4f4", "align": "center", "baseline": "middle"},
          "encoding": {
            "x": {"datum": {"year": 2021, "month": 11, "date": 24, "hours": 23, "minutes": 15, "seconds": 55}, "type": "temporal", "title": null, "axis": {"values": [{"year": 2021, "month": 11, "date": 24, "hours": 23, "minutes": 14, "seconds": 30}, {"year": 2021, "month": 11, "date": 24, "hours": 23, "minutes": 15, "seconds": 0}, {"year": 2021, "month": 11, "date": 24, "hours": 23, "minutes": 15, "seconds": 30}, {"year": 2021, "month": 11, "date": 24, "hours": 23, "minutes": 16, "seconds": 0}, {"year": 2021, "month": 11, "date": 24, "hours": 23, "minutes": 16, "seconds": 30}], "labelExpr": "minutes(datum.value) == 14 && seconds(datum.value) == 30 ? timeFormat(datum.value, '%Y-%m-%dT%H:%M:%S') : timeFormat(datum.value, '%H:%M:%S')", "labelPadding": 5, "labelFlush": false, "labelOverlap": false}},
            "y": {"datum": -0.005, "type": "quantitative", "title": null, "axis": {"values": [-0.09, -0.06, -0.03, 0, 0.03, 0.06, 0.09], "format": ".2f", "labelPadding": 7, "minExtent": 50, "maxExtent": 50}},
            "text": {"field": "logo"}
          }
        },
        {
          "data": {"values": [{"org": "CENTRO SISMOLÓGICO NACIONAL\nUNIVERSIDAD DE CHILE"}]},
          "mark": {"type": "text", "font": "Lato", "fontSize": 14.5, "fontStyle": "italic", "fontWeight": 300, "color": "#f4f4f4", "align": "left", "baseline": "top", "lineBreak": "\n", "lineHeight": 17},
          "encoding": {
            "x": {"datum": {"year": 2021, "month": 11, "date": 24, "hours": 23, "minutes": 16, "seconds": 1, "milliseconds": 300}, "type": "temporal", "title": null, "axis": {"values": [{"year": 2021, "month": 11, "date": 24, "hours": 23, "minutes": 14, "seconds": 30}, {"year": 2021, "month": 11, "date": 24, "hours": 23, "minutes": 15, "seconds": 0}, {"year": 2021, "month": 11, "date": 24, "hours": 23, "minutes": 15, "seconds": 30}, {"year": 2021, "month": 11, "date": 24, "hours": 23, "minutes": 16, "seconds": 0}, {"year": 2021, "month": 11, "date": 24, "hours": 23, "minutes": 16, "seconds": 30}], "labelExpr": "minutes(datum.value) == 14 && seconds(datum.value) == 30 ? timeFormat(datum.value, '%Y-%m-%dT%H:%M:%S') : timeFormat(datum.value, '%H:%M:%S')", "labelPadding": 5, "labelFlush": false, "labelOverlap": false}},
            "y": {"datum": -0.049, "type": "quantitative", "title": null, "axis": {"values": [-0.09, -0.06, -0.03, 0, 0.03, 0.06, 0.09], "format": ".2f", "labelPadding": 7, "minExtent": 50, "maxExtent": 50}},
            "text": {"field": "org"}
          }
        },
        {
          "data": {"name": "trace"},
          "mark": {"type": "area", "color": "#444444", "interpolate": "linear"},
          "encoding": {
            "x": {
              "field": "t",
              "type": "temporal",
              "title": null,
              "scale": {"domain": [{"year": 2021, "month": 11, "date": 24, "hours": 23, "minutes": 14, "seconds": 15}, {"year": 2021, "month": 11, "date": 24, "hours": 23, "minutes": 16, "seconds": 55, "milliseconds": 995}]},
              "axis": {"values": [{"year": 2021, "month": 11, "date": 24, "hours": 23, "minutes": 14, "seconds": 30}, {"year": 2021, "month": 11, "date": 24, "hours": 23, "minutes": 15, "seconds": 0}, {"year": 2021, "month": 11, "date": 24, "hours": 23, "minutes": 15, "seconds": 30}, {"year": 2021, "month": 11, "date": 24, "hours": 23, "minutes": 16, "seconds": 0}, {"year": 2021, "month": 11, "date": 24, "hours": 23, "minutes": 16, "seconds": 30}], "labelExpr": "minutes(datum.value) == 14 && seconds(datum.value) == 30 ? timeFormat(datum.value, '%Y-%m-%dT%H:%M:%S') : timeFormat(datum.value, '%H:%M:%S')", "labelPadding": 5, "labelFlush": false, "labelOverlap": false}
            },
            "y": {
              "field": "eh",
              "type": "quantitative",
              "title": null,
              "scale": {"domain": [-0.0976, 0.0981], "nice": false, "zero": false},
              "axis": {"values": [-0.09, -0.06, -0.03, 0, 0.03, 0.06, 0.09], "format": ".2f", "labelPadding": 7, "minExtent": 50, "maxExtent": 50}
            },
            "y2": {"field": "el"}
          }
        },
        {
          "data": {"values": [{"station": "C1.T11A..HNE"}]},
          "mark": {"type": "rect", "fill": "white", "stroke": "#666666", "strokeWidth": 1, "cornerRadius": 3},
          "encoding": {
            "x": {"datum": {"year": 2021, "month": 11, "date": 24, "hours": 23, "minutes": 14, "seconds": 17, "milliseconds": 360}, "type": "temporal", "title": null, "axis": {"values": [{"year": 2021, "month": 11, "date": 24, "hours": 23, "minutes": 14, "seconds": 30}, {"year": 2021, "month": 11, "date": 24, "hours": 23, "minutes": 15, "seconds": 0}, {"year": 2021, "month": 11, "date": 24, "hours": 23, "minutes": 15, "seconds": 30}, {"year": 2021, "month": 11, "date": 24, "hours": 23, "minutes": 16, "seconds": 0}, {"year": 2021, "month": 11, "date": 24, "hours": 23, "minutes": 16, "seconds": 30}], "labelExpr": "minutes(datum.value) == 14 && seconds(datum.value) == 30 ? timeFormat(datum.value, '%Y-%m-%dT%H:%M:%S') : timeFormat(datum.value, '%H:%M:%S')", "labelPadding": 5, "labelFlush": false, "labelOverlap": false}},
            "x2": {"datum": {"year": 2021, "month": 11, "date": 24, "hours": 23, "minutes": 14, "seconds": 37, "milliseconds": 610}},
            "y": {"datum": 0.0905, "type": "quantitative", "title": null, "axis": {"values": [-0.09, -0.06, -0.03, 0, 0.03, 0.06, 0.09], "format": ".2f", "labelPadding": 7, "minExtent": 50, "maxExtent": 50}},
            "y2": {"datum": 0.0741}
          }
        },
        {
          "data": {"values": [{"station": "C1.T11A..HNE"}]},
          "mark": {"type": "text", "fontSize": 11, "color": "#444444", "align": "left", "baseline": "middle"},
          "encoding": {
            "x": {"datum": {"year": 2021, "month": 11, "date": 24, "hours": 23, "minutes": 14, "seconds": 18, "milliseconds": 400}, "type": "temporal", "title": null, "axis": {"values": [{"year": 2021, "month": 11, "date": 24, "hours": 23, "minutes": 14, "seconds": 30}, {"year": 2021, "month": 11, "date": 24, "hours": 23, "minutes": 15, "seconds": 0}, {"year": 2021, "month": 11, "date": 24, "hours": 23, "minutes": 15, "seconds": 30}, {"year": 2021, "month": 11, "date": 24, "hours": 23, "minutes": 16, "seconds": 0}, {"year": 2021, "month": 11, "date": 24, "hours": 23, "minutes": 16, "seconds": 30}], "labelExpr": "minutes(datum.value) == 14 && seconds(datum.value) == 30 ? timeFormat(datum.value, '%Y-%m-%dT%H:%M:%S') : timeFormat(datum.value, '%H:%M:%S')", "labelPadding": 5, "labelFlush": false, "labelOverlap": false}},
            "y": {"datum": 0.0823, "type": "quantitative", "title": null, "axis": {"values": [-0.09, -0.06, -0.03, 0, 0.03, 0.06, 0.09], "format": ".2f", "labelPadding": 7, "minExtent": 50, "maxExtent": 50}},
            "text": {"field": "station"}
          }
        }
      ]
    }
  ]
}
